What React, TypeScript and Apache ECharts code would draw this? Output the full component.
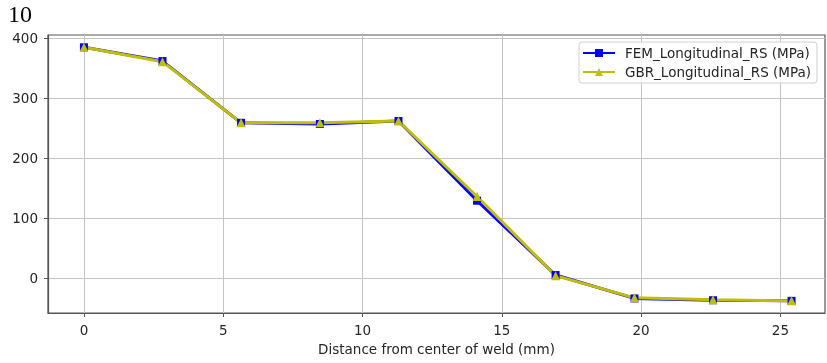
import React, { useEffect, useRef } from "react";
import * as echarts from "echarts";

const xValues = [0, 2.82, 5.64, 8.47, 11.29, 14.11, 16.93, 19.76, 22.58, 25.4];
const femValues = [385, 362, 259, 257, 262, 129, 5, -34, -37, -38];
const gbrValues = [385, 361, 259, 259, 262, 136, 4, -33, -36, -38];
const xTicks = [0, 5, 10, 15, 20, 25];
const yTicks = [0, 100, 200, 300, 400];
const seriesNames = ["FEM_Longitudinal_RS (MPa)", "GBR_Longitudinal_RS (MPa)"];
const xAxisTitle = "Distance from center of weld (mm)";
const pageNumber = "10";

const FONT = "'DejaVu Sans', Verdana, sans-serif";

export default function App() {
  const ref = useRef<HTMLDivElement>(null);

  useEffect(() => {
    if (!ref.current) return;
    const chart = echarts.init(ref.current, null, { renderer: "svg" });
    const tickColor = "#555";
    const textColor = "#262626";
    chart.setOption({
      animation: false,
      backgroundColor: "transparent",
      grid: {
        left: 48,
        right: 2,
        top: 35,
        bottom: 50,
        show: true,
        borderColor: "#555",
        borderWidth: 1.2,
        backgroundColor: "transparent",
      },
      legend: {
        orient: "vertical",
        right: 10,
        top: 42,
        padding: [4, 6, 4, 3],
        itemGap: 5,
        itemWidth: 32,
        itemHeight: 10,
        borderColor: "#d0d0d0",
        borderWidth: 1,
        borderRadius: 3,
        backgroundColor: "rgba(255,255,255,0.8)",
        textStyle: {
          fontFamily: FONT,
          fontSize: 13.5,
          color: textColor,
          padding: [0, 0, 0, 5],
        },
        data: seriesNames,
      },
      xAxis: {
        type: "value",
        min: -1.29,
        max: 26.6,
        name: xAxisTitle,
        nameLocation: "middle",
        nameGap: 26,
        nameTextStyle: { fontFamily: FONT, fontSize: 13.5, color: textColor },
        axisLine: { show: true, onZero: false, lineStyle: { color: tickColor, width: 1.2 } },
        axisTick: {
          show: true,
          length: 4,
          customValues: xTicks,
          lineStyle: { color: tickColor, width: 1 },
        },
        axisLabel: {
          customValues: xTicks,
          margin: 10,
          fontFamily: FONT,
          fontSize: 13.5,
          color: textColor,
        },
        splitLine: { show: true, lineStyle: { color: "#c4c4c4", width: 1 } },
      },
      yAxis: {
        type: "value",
        min: -58.3,
        max: 405.5,
        axisLine: { show: true, onZero: false, lineStyle: { color: tickColor, width: 1.2 } },
        axisTick: {
          show: true,
          length: 4,
          customValues: yTicks,
          lineStyle: { color: tickColor, width: 1 },
        },
        axisLabel: {
          customValues: yTicks,
          margin: 10,
          fontFamily: FONT,
          fontSize: 13.5,
          color: textColor,
        },
        splitLine: { show: true, lineStyle: { color: "#c4c4c4", width: 1 } },
      },
      series: [
        {
          name: seriesNames[0],
          type: "line",
          data: xValues.map((x, i) => [x, femValues[i]]),
          symbol: "rect",
          symbolSize: 8,
          color: "#0000ff",
          lineStyle: { width: 3, color: "#0000ff" },
          itemStyle: { color: "#0000ff" },
        },
        {
          name: seriesNames[1],
          type: "line",
          data: xValues.map((x, i) => [x, gbrValues[i]]),
          symbol: "triangle",
          symbolSize: 9,
          color: "#bfbf00",
          lineStyle: { width: 3, color: "#bfbf00" },
          itemStyle: { color: "#bfbf00" },
        },
      ],
    });
    return () => chart.dispose();
  }, []);

  return (
    <>
      <div
        style={{
          position: "fixed",
          left: 0,
          top: 0,
          width: 827,
          height: 363,
        }}
        ref={ref}
      />
      <div
        style={{
          position: "fixed",
          left: 8,
          top: 2,
          fontFamily: "'Liberation Serif', 'Times New Roman', serif",
          fontSize: 24,
          lineHeight: "24px",
          color: "#000",
        }}
      >
        {pageNumber}
      </div>
    </>
  );
}
